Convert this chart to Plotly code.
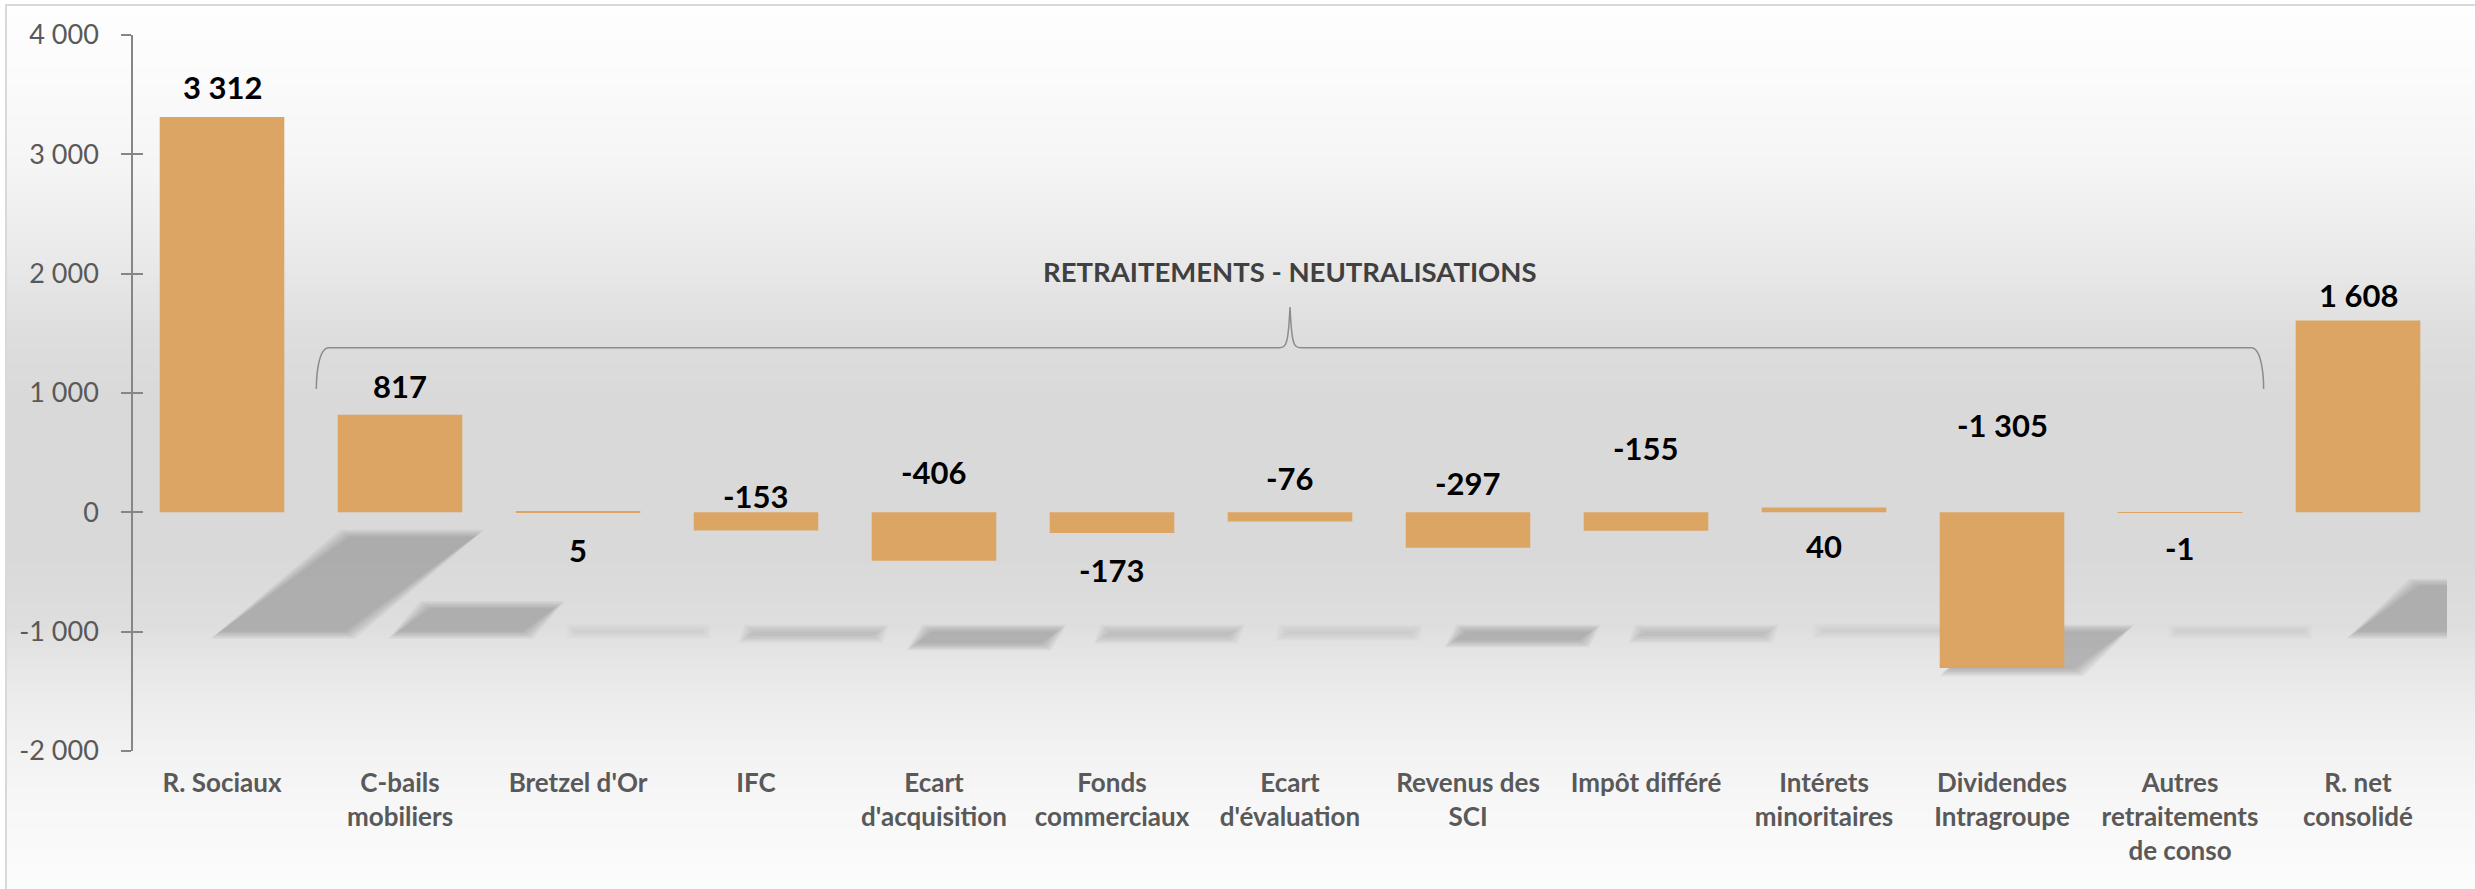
import base64, struct, zlib
import plotly.graph_objects as go

# ---------------- data ----------------
categories = ["R. Sociaux", "C-bails<br>mobiliers", "Bretzel d'Or", "IFC", "Ecart<br>d'acquisition",
              "Fonds<br>commerciaux", "Ecart<br>d'évaluation", "Revenus des<br>SCI", "Impôt différé",
              "Intérets<br>minoritaires", "Dividendes<br>Intragroupe", "Autres<br>retraitements<br>de conso",
              "R. net<br>consolidé"]
values = [3312, 817, 5, -153, -406, -173, -76, -297, -155, 40, -1305, -1, 1608]
label_y = [3566, 1062, -313, 133, 341, -483, 289, 242, 541, -284, 735, -298, 1820]
y_tickvals = [-2000, -1000, 0, 1000, 2000, 3000, 4000]
y_ticktext = ["-2 000", "-1 000", "0", "1 000", "2 000", "3 000", "4 000"]
group_label = "RETRAITEMENTS - NEUTRALISATIONS"

# ---------------- layout constants ----------------
W, H = 2475, 889
ML, MR, MT, MB = 133, 28, 35, 138
PW, PH = W - ML - MR, H - MT - MB
BAR_COLOR = "#DCA563"
FONT = "Lato"

def px_to_paper_x(px):
    return (px - ML) / PW

def py_to_paper_y(py):
    return (H - MB - py) / PH

# vertical gradient background as a PNG data URI
grad_stops = [(0.0, 254), (0.08, 251), (0.18, 245), (0.28, 234), (0.38, 221), (0.45, 217),
              (0.62, 217), (0.70, 222), (0.73, 228), (0.80, 238), (0.90, 247), (1.0, 252)]

def grad_value(t):
    for (t0, v0), (t1, v1) in zip(grad_stops[:-1], grad_stops[1:]):
        if t0 <= t <= t1:
            return round(v0 + (v1 - v0) * (t - t0) / (t1 - t0))
    return grad_stops[-1][1]

def png_gray_column(n):
    raw = b"".join(b"\x00" + bytes([grad_value(i / (n - 1))]) for i in range(n))
    def chunk(tag, data):
        c = struct.pack(">I", len(data)) + tag + data
        return c + struct.pack(">I", zlib.crc32(tag + data) & 0xffffffff)
    png = b"\x89PNG\r\n\x1a\n"
    png += chunk(b"IHDR", struct.pack(">IIBBBBB", 1, n, 8, 0, 0, 0, 0))
    png += chunk(b"IDAT", zlib.compress(raw))
    png += chunk(b"IEND", b"")
    return "data:image/png;base64," + base64.b64encode(png).decode()

xs = list(range(len(categories)))
texts = [f"{v:,}".replace(",", " ") for v in values]

fig = go.Figure()
fig.add_trace(go.Bar(x=xs, y=values, marker=dict(color=BAR_COLOR, line=dict(width=0)),
                     width=0.7, hoverinfo="skip", showlegend=False))
# helper invisible trace for the inside half of the crossing y ticks
fig.add_trace(go.Scatter(x=[0], y=[0], yaxis="y2", mode="markers",
                         marker=dict(opacity=0), hoverinfo="skip", showlegend=False))

shapes = []
# soft perspective shadows derived from bar values (layered to fake a blur)
SH_DX, SH_K, SH_SKEW, FLOOR = 0.34, 0.24, 0.00022, -1000
N_BLUR, BLUR_X, BLUR_Y = 6, 0.011, 24
for i, v in enumerate(values):
    h = SH_K * v
    top = FLOOR + h
    dx_top = SH_SKEW * v
    strength = min(1.0, 0.2 + abs(h) / 90)
    sgn = 1 if v >= 0 else -1
    for k in range(N_BLUR):
        e = (N_BLUR - 1 - k) * BLUR_X
        ey = (N_BLUR - 1 - k) * BLUR_Y
        x0b, x1b = i - 0.35 + SH_DX - e, i + 0.35 + SH_DX + e
        x0t, x1t = x0b + dx_top, x1b + dx_top
        yb = FLOOR - sgn * ey * 0.5
        yt = top + sgn * ey * 0.5
        path = f"M {x0b},{yb} L {x1b},{yb} L {x1t},{yt} L {x0t},{yt} Z"
        shapes.append(dict(type="path", path=path, xref="x", yref="y", layer="below",
                           fillcolor=f"rgba(95,95,95,{0.068 * strength:.4f})", line=dict(width=0)))

# bracket over the adjustment bars
bx0, bx1, bmid = 0.53, 11.47, 6.0
yh, ytip, ypeak = 1380, 1033, 1721
brace = (f"M {bx0},{ytip} C {bx0},{yh - 250} {bx0 + 0.01},{yh} {bx0 + 0.07},{yh} "
         f"L {bmid - 0.06},{yh} C {bmid - 0.02},{yh} {bmid - 0.01},{yh + 30} {bmid},{ypeak} "
         f"C {bmid + 0.01},{yh + 30} {bmid + 0.02},{yh} {bmid + 0.06},{yh} "
         f"L {bx1 - 0.07},{yh} C {bx1 - 0.01},{yh} {bx1},{yh - 250} {bx1},{ytip}")
shapes.append(dict(type="path", path=brace, xref="x", yref="y", layer="above",
                   line=dict(color="#8C8C8C", width=1.5)))

# frame border
shapes.append(dict(type="rect", xref="paper", yref="paper",
                   x0=px_to_paper_x(6), x1=px_to_paper_x(W + 20),
                   y0=py_to_paper_y(H + 20), y1=py_to_paper_y(5),
                   line=dict(color="#D9D9D9", width=2), fillcolor="rgba(0,0,0,0)", layer="below"))

annotations = []
for x, ly, t in zip(xs, label_y, texts):
    annotations.append(dict(x=x, y=ly, xref="x", yref="y", text=t, showarrow=False,
                            yanchor="middle", xanchor="center",
                            font=dict(family=FONT, size=31, color="#000000", weight="bold")))
annotations.append(dict(x=bmid, y=2015, xref="x", yref="y", text=group_label, showarrow=False,
                        yanchor="middle", xanchor="center",
                        font=dict(family=FONT, size=27.5, color="#404040", weight="bold")))

fig.update_layout(
    width=W, height=H,
    margin=dict(l=ML, r=MR, t=MT, b=MB),
    paper_bgcolor="white", plot_bgcolor="rgba(0,0,0,0)",
    showlegend=False,
    images=[dict(source=png_gray_column(256), xref="paper", yref="paper",
                 x=px_to_paper_x(6), y=py_to_paper_y(6),
                 sizex=(W - 6) / PW, sizey=(H - 6) / PH,
                 xanchor="left", yanchor="top", sizing="stretch", layer="below")],
    shapes=shapes,
    annotations=annotations,
    xaxis=dict(range=[-0.5, len(categories) - 0.5], tickvals=xs, ticktext=categories,
               showgrid=False, zeroline=False, showline=False, ticks="",
               ticklabelstandoff=14,
               tickfont=dict(family=FONT, size=26, color="#595959", weight="bold")),
    yaxis=dict(range=[-2000, 4000], tickvals=y_tickvals, ticktext=y_ticktext,
               showgrid=False, zeroline=False, showline=True, linecolor="#868686", linewidth=1.5,
               ticks="outside", ticklen=10, tickwidth=1.5, tickcolor="#868686",
               ticklabelstandoff=17,
               tickfont=dict(family=FONT, size=27, color="#595959")),
    yaxis2=dict(range=[-2000, 4000], overlaying="y", side="left", tickvals=y_tickvals,
                showticklabels=False, showgrid=False, zeroline=False, showline=False,
                ticks="inside", ticklen=10, tickwidth=1.5, tickcolor="#868686"),
)

fig.write_html("out.html")
